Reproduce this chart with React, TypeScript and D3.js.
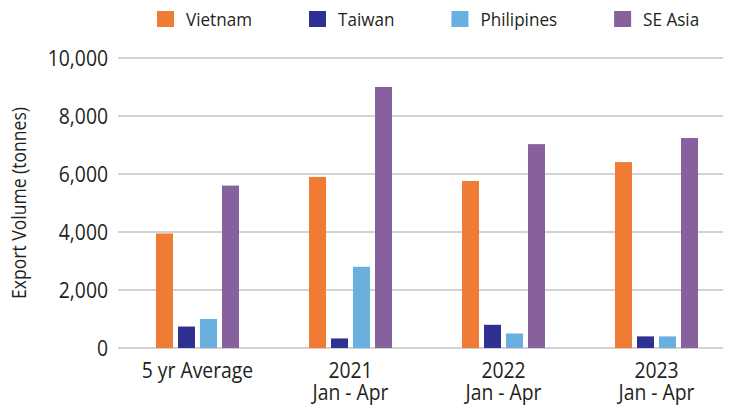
import React, { useEffect, useRef } from 'react';
import * as d3 from 'd3';

const categories = ['5 yr Average', '2021|Jan - Apr', '2022|Jan - Apr', '2023|Jan - Apr'];
const seriesNames = ['Vietnam', 'Taiwan', 'Philipines', 'SE Asia'];
const seriesColors = ['#F07B34', '#2E3192', '#6AB0DF', '#87619D'];
const vietnam = [3950, 5900, 5760, 6410];
const taiwan = [740, 330, 800, 400];
const philipines = [1000, 2800, 500, 400];
const seAsia = [5600, 9000, 7030, 7240];
const yTicks = [0, 2000, 4000, 6000, 8000, 10000];

const FONT = '"Open Sans", sans-serif';
const SX = 0.9; // squeeze text a bit, the original font is narrower

export default function App() {
  const svgRef = useRef<SVGSVGElement>(null);

  useEffect(() => {
    if (!svgRef.current) return;
    const svg = d3.select(svgRef.current);
    svg.selectAll('*').remove();

    const values = [vietnam, taiwan, philipines, seAsia];
    const rows = categories.map((c, i) => ({
      cat: c,
      vals: seriesNames.map((s, j) => ({ name: s, color: seriesColors[j], value: values[j][i] }))
    }));

    // scales
    const y = d3.scaleLinear().domain([0, 10000]).range([348, 58]);
    const x0 = d3.scaleBand().domain(categories).range([121, 733]).padding(0);
    const x1 = d3.scaleBand()
      .domain(seriesNames)
      .range([35, 118])
      .paddingInner(0.227)
      .paddingOuter(0);

    // gridlines
    svg.append('g')
      .selectAll('line')
      .data(yTicks)
      .join('line')
      .attr('x1', 118)
      .attr('x2', 723)
      .attr('y1', d => y(d))
      .attr('y2', d => y(d))
      .attr('stroke', '#c3c3c5')
      .attr('stroke-width', 1.5);

    // y tick labels
    svg.append('g')
      .selectAll('text')
      .data(yTicks)
      .join('text')
      .attr('transform', d => `translate(108,${y(d)}) scale(${SX},1)`)
      .attr('dy', '0.36em')
      .attr('text-anchor', 'end')
      .attr('font-family', FONT)
      .attr('font-size', 21.5)
      .attr('fill', '#231f20')
      .text(d => d3.format(',')(d));

    // y axis title
    svg.append('text')
      .attr('transform', `translate(26,${(y(0) + y(10000)) / 2}) rotate(-90) scale(${SX},1)`)
      .attr('text-anchor', 'middle')
      .attr('font-family', FONT)
      .attr('font-size', 19.5)
      .attr('fill', '#231f20')
      .text('Export Volume (tonnes)');

    // bars
    const groups = svg.append('g')
      .selectAll('g')
      .data(rows)
      .join('g')
      .attr('transform', d => `translate(${x0(d.cat)},0)`);

    groups.selectAll('rect')
      .data(d => d.vals)
      .join('rect')
      .attr('x', d => x1(d.name)!)
      .attr('y', d => y(d.value))
      .attr('width', x1.bandwidth())
      .attr('height', d => y(0) - y(d.value))
      .attr('fill', d => d.color);

    // category labels, one text per line
    categories.forEach(c => {
      c.split('|').forEach((line, i) => {
        svg.append('text')
          .attr('transform', `translate(${x0(c)! + x0.bandwidth() / 2},${378 + i * 22}) scale(${SX},1)`)
          .attr('text-anchor', 'middle')
          .attr('font-family', FONT)
          .attr('font-size', 21.5)
          .attr('fill', '#231f20')
          .text(line);
      });
    });

    // legend
    const legend = svg.append('g');
    let lx = 157;
    seriesNames.forEach((name, i) => {
      legend.append('rect')
        .attr('x', lx)
        .attr('y', 11)
        .attr('width', 17)
        .attr('height', 16)
        .attr('fill', seriesColors[i]);
      const t = legend.append('text')
        .attr('transform', `translate(${lx + 29},19) scale(${SX},1)`)
        .attr('dy', '0.36em')
        .attr('font-family', FONT)
        .attr('font-size', 19)
        .attr('fill', '#231f20')
        .text(name);
      const w = (t.node() as SVGTextElement).getComputedTextLength() * SX;
      lx = lx + 29 + w + 57;
    });
  }, []);

  return (
    <svg
      ref={svgRef}
      width={733}
      height={406}
      style={{ position: 'absolute', left: 0, top: 0, background: '#fff' }}
    />
  );
}
